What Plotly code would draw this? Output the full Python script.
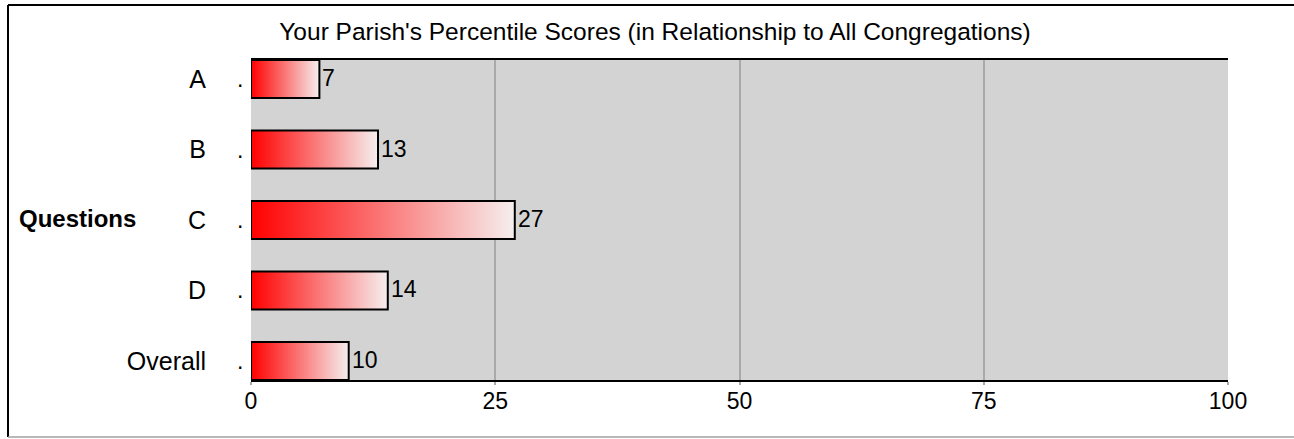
import plotly.graph_objects as go

categories = ["A", "B", "C", "D", "Overall"]
scores = [7, 13, 27, 14, 10]
x_ticks = [0, 25, 50, 75, 100]
title_text = "Your Parish's Percentile Scores (in Relationship to All Congregations)"
axis_title = "Questions"

FONT = "Arial, Liberation Sans, sans-serif"
W, H = 1294, 439
L, R, T, B = 251, W - 1228, 60, H - 380
half = 0.27

fig = go.Figure()
for i, (cat, v) in enumerate(zip(categories, scores)):
    fig.add_trace(go.Scatter(
        x=[0, v, v, 0, 0],
        y=[i - half, i - half, i + half, i + half, i - half],
        mode="lines", fill="toself",
        fillgradient=dict(type="horizontal",
                          colorscale=[[0, "#ff0000"], [1, "#f6efef"]]),
        line=dict(color="black", width=2),
        hoverinfo="skip", showlegend=False,
    ))

annotations = []
for i, v in enumerate(scores):
    annotations.append(dict(x=v, y=i, xref="x", yref="y", text=str(v),
                            showarrow=False, xanchor="left", yanchor="middle",
                            xshift=1, yshift=1,
                            font=dict(family=FONT, size=23, color="black")))
for i, _ in enumerate(categories):
    annotations.append(dict(x=0, y=i, xref="x", yref="y", text=".",
                            showarrow=False, xanchor="right", xshift=-6,
                            font=dict(family=FONT, size=23, color="black")))
annotations.append(dict(x=(17 - L) / (W - L - R), y=2, xref="paper", yref="y",
                        text="<b>" + axis_title + "</b>", showarrow=False,
                        xanchor="left", yanchor="middle", yshift=2,
                        font=dict(family=FONT, size=24, color="black")))

pw, ph = W - L - R, H - T - B
def px(xp):
    return (xp - L) / pw
def py(yp):
    return (H - B - yp) / ph

shapes = [
    dict(type="line", xref="paper", yref="paper", x0=px(8), x1=px(8), y0=py(5), y1=py(437),
         line=dict(color="black", width=2)),
    dict(type="line", xref="paper", yref="paper", x0=px(8), x1=px(1300), y0=py(5), y1=py(5),
         line=dict(color="black", width=2)),
    dict(type="line", xref="paper", yref="paper", x0=px(8), x1=px(1300), y0=py(437), y1=py(437),
         line=dict(color="#a0a0a0", width=1.5)),
]

fig.update_layout(
    width=W, height=H,
    margin=dict(l=L, r=R, t=T, b=B),
    paper_bgcolor="white", plot_bgcolor="#d3d3d3",
    title=dict(text=title_text, xref="container", yref="container",
               x=655 / W, y=1 - 31 / H, xanchor="center", yanchor="middle",
               font=dict(family=FONT, size=24.5, color="black")),
    annotations=annotations, shapes=shapes,
    xaxis=dict(range=[0, 100], tickvals=x_ticks, ticktext=[str(t) for t in x_ticks],
               showgrid=True, gridcolor="#a9a9a9", gridwidth=2, zeroline=False,
               showline=True, linecolor="black", linewidth=2, mirror=True,
               ticks="outside", ticklen=3, tickcolor="#a9a9a9", tickwidth=2,
               ticklabelstandoff=-4,
               tickfont=dict(family=FONT, size=23, color="black")),
    yaxis=dict(range=[len(categories) - 1 + half, -half],
               tickvals=list(range(len(categories))), ticktext=categories,
               showgrid=False, zeroline=False, showline=False, ticks="",
               ticklabelstandoff=44,
               tickfont=dict(family=FONT, size=25, color="black")),
    font=dict(family=FONT, size=22, color="black"),
)

fig.write_html("out.html", config={"displayModeBar": False},
               post_script="document.body.style.margin='0';")
